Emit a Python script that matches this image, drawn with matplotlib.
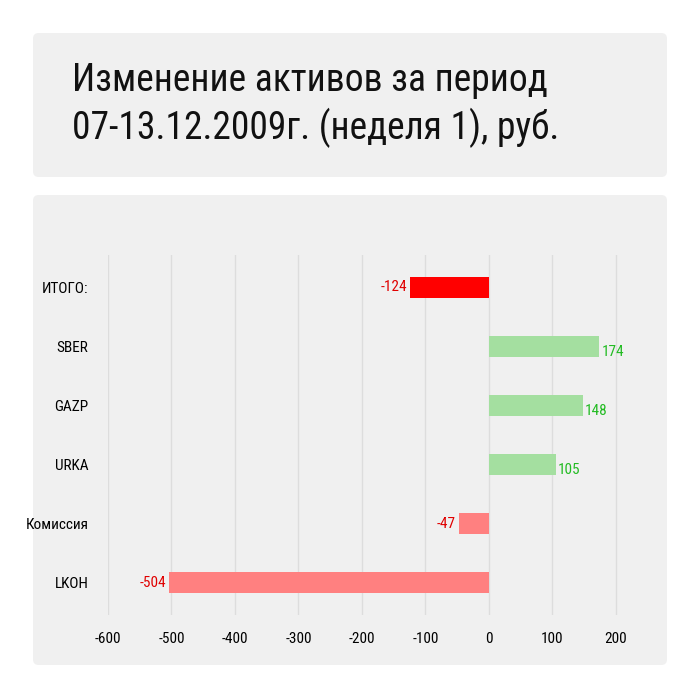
import matplotlib
matplotlib.use("Agg")
import matplotlib.pyplot as plt
from matplotlib.patches import FancyBboxPatch
from matplotlib import font_manager as fm

categories = ["ИТОГО:", "SBER", "GAZP", "URKA", "Комиссия", "LKOH"]
values = [-124, 174, 148, 105, -47, -504]
xticks = [-600, -500, -400, -300, -200, -100, 0, 100, 200]

names = {f.name for f in fm.fontManager.ttflist}
fam = [f for f in ["Liberation Sans Narrow", "Roboto Condensed", "Roboto", "DejaVu Sans"] if f in names]

fig = plt.figure(figsize=(7, 7), dpi=100)
W = H = 700
def box(x0, y0, x1, y1):
    fig.patches.append(FancyBboxPatch((x0 / W, 1 - y1 / H), (x1 - x0) / W, (y1 - y0) / H,
                                      boxstyle="round,pad=0,rounding_size=0.008",
                                      transform=fig.transFigure, fc="#f0f0f0", ec="none", zorder=-5))
box(33, 33, 667, 177)
box(33, 195, 667, 665)
fig.text(72 / W, 1 - 105 / H, "Изменение активов за период\n07-13.12.2009г. (неделя 1), руб.",
         family=fam, fontsize=27, va="center", ha="left", linespacing=1.3, color="#111")

ax = fig.add_axes([108 / W, 1 - 615 / H, (640 - 108) / W, (615 - 255) / H])
ax.set_zorder(5)
ax.set_facecolor("none")
y = list(range(len(categories)))
cols = []
for i, v in enumerate(values):
    if i == 0:
        cols.append("#ff0000")
    elif v >= 0:
        cols.append("#a4dfa0")
    else:
        cols.append("#ff8080")
ax.barh(y, values, height=0.35, color=cols, zorder=3)
for i, v in enumerate(values):
    if v < 0:
        ax.text(v - 5, i, str(v), ha="right", va="center", color="#e00000", family=fam, fontsize=11)
    else:
        ax.text(v + 3, i + 0.1, str(v), ha="left", va="center", color="#22bb22", family=fam, fontsize=11)
ax.set_ylim(5.55, -0.55)
ax.set_xlim(-600, 238)
ax.set_xticks(xticks)
ax.set_xticklabels([str(t) for t in xticks], family=fam, fontsize=11)
ax.set_yticks(y)
ax.set_yticklabels(categories, family=fam, fontsize=11)
ax.tick_params(length=0, pad=12)
ax.tick_params(axis="y", pad=14)
ax.grid(axis="x", color="#dddddd", lw=1, zorder=0)
for s in ax.spines.values():
    s.set_visible(False)
fig.savefig("out.png", dpi=100)
